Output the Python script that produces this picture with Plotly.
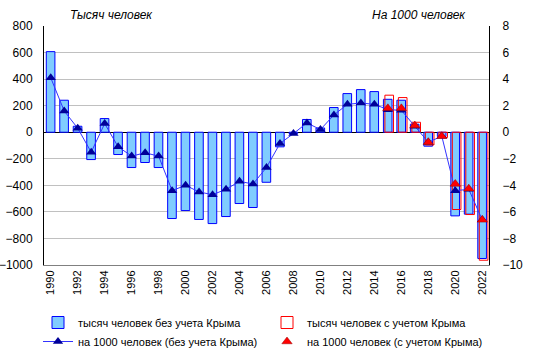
import plotly.graph_objects as go

years = list(range(1990, 2023))

# тысяч человек без учета Крыма
thousands_excl = [607, 241, 45, -206, 103, -168, -266, -228, -266, -650,
                  -590, -657, -688, -635, -537, -567, -377, -110, -10, 96,
                  32, 186, 291, 321, 306, 248, 241, 60, -105, -32,
                  -630, -617, -951]

# тысяч человек с учетом Крыма (2015-2022)
years_incl = list(range(2015, 2023))
thousands_incl = [279, 261, 75, -96, -40, -582, -620, -964]

# на 1000 человек без учета Крыма
rate_excl = [4.1, 1.6, 0.3, -1.5, 0.65, -1.1, -1.8, -1.55, -1.8, -4.4,
             -4.0, -4.5, -4.7, -4.3, -3.7, -3.9, -2.65, -0.85, -0.1, 0.7,
             0.2, 1.3, 2.1, 2.2, 2.1, 1.7, 1.65, 0.45, -0.75, -0.3,
             -4.4, -4.3, -6.6]

# на 1000 человек с учетом Крыма
rate_incl = [1.8, 1.8, 0.5, -0.75, -0.3, -3.9, -4.25, -6.6]

left_ticks = list(range(-1000, 801, 200))
right_ticks = list(range(-10, 9, 2))
x_ticks = list(range(1990, 2023, 2))

FONT = "Arial, Liberation Sans, sans-serif"

W, H = 535, 360

fig = go.Figure()
fig.add_trace(go.Bar(
    x=years, y=thousands_excl, name="тысяч человек без учета Крыма",
    marker=dict(color="#80CCFF", line=dict(color="#0000FF", width=1)),
    width=0.64, offset=-0.33, yaxis="y", legend="legend", legendgroup="a"))
fig.add_trace(go.Bar(
    x=years_incl, y=thousands_incl, name="тысяч человек с учетом Крыма",
    marker=dict(color="rgba(0,0,0,0)", line=dict(color="#FF0000", width=1)),
    width=0.64, offset=-0.22, yaxis="y", legend="legend2", legendgroup="b"))
fig.add_trace(go.Scatter(
    x=years, y=rate_excl, name="на 1000 человек (без учета Крыма)",
    mode="lines+markers", line=dict(color="#3333FF", width=1),
    marker=dict(symbol="triangle-up", size=9, color="#000099",
                line=dict(width=0)),
    yaxis="y2", legend="legend", legendgroup="c"))
fig.add_trace(go.Scatter(
    x=years_incl, y=rate_incl, name="на 1000 человек (с учетом Крыма)",
    mode="markers",
    marker=dict(symbol="triangle-up", size=9, color="#FF0000",
                line=dict(color="#990000", width=0.5)),
    yaxis="y2", legend="legend2", legendgroup="d"))

legend_common = dict(orientation="v", xref="container", yref="container",
                     xanchor="left", yanchor="top", traceorder="normal",
                     itemwidth=30, bgcolor="rgba(0,0,0,0)",
                     font=dict(size=11, family=FONT), tracegroupgap=3)

fig.update_layout(
    width=W, height=H,
    margin=dict(l=44, r=46, t=26, b=95, autoexpand=False),
    paper_bgcolor="white", plot_bgcolor="white",
    barmode="overlay",
    font=dict(family=FONT, size=11, color="black"),
    showlegend=True,
    legend=dict(x=38/W, y=1-308/H, **legend_common),
    legend2=dict(x=267/W, y=1-308/H, **legend_common),
    xaxis=dict(range=[1989.5, 2022.5], tickvals=x_ticks,
               ticktext=[str(t) for t in x_ticks], tickangle=-90,
               showgrid=False, zeroline=False, showline=True,
               linecolor="#808080", linewidth=1, ticks="",
               tickfont=dict(size=11)),
    yaxis=dict(range=[-1000, 800], tickvals=left_ticks,
               showgrid=True, gridcolor="#C0C0C0", gridwidth=1,
               zeroline=True, zerolinecolor="black", zerolinewidth=1,
               showline=True, linecolor="black", linewidth=1,
               ticks="", ticklabelstandoff=8, tickfont=dict(size=12)),
    yaxis2=dict(range=[-10, 8], tickvals=right_ticks, overlaying="y",
                side="right", showgrid=False, zeroline=False,
                showline=True, linecolor="black", linewidth=1,
                ticks="", ticklabelstandoff=10, tickfont=dict(size=12)),
    annotations=[
        dict(text="<i>Тысяч человек</i>", xref="paper", yref="paper",
             x=(111-44)/445, y=1, yshift=11, showarrow=False,
             font=dict(size=12, family=FONT), xanchor="center", yanchor="middle"),
        dict(text="<i>На 1000 человек</i>", xref="paper", yref="paper",
             x=(419-44)/445, y=1, yshift=11, showarrow=False,
             font=dict(size=12, family=FONT), xanchor="center", yanchor="middle"),
    ],
)

fig.write_html(
    "out.html",
    config={"displayModeBar": False},
    post_script="document.body.style.margin='0';"
                "document.documentElement.style.overflow='hidden';",
)
